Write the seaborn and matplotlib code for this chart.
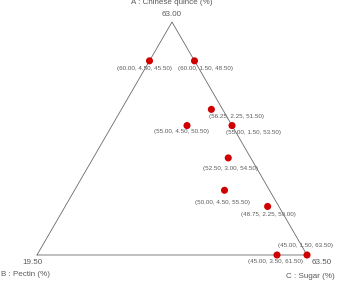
import numpy as np
import pandas as pd
import matplotlib
matplotlib.use("Agg")
import matplotlib.pyplot as plt
import seaborn as sns

# Mixture design points: A = Chinese quince (%), B = Pectin (%), C = Sugar (%)
quince = [60.00, 60.00, 56.25, 55.00, 55.00, 52.50, 50.00, 48.75, 45.00, 45.00]
pectin = [4.50, 1.50, 2.25, 1.50, 4.50, 3.00, 4.50, 2.25, 1.50, 3.50]
sugar = [45.50, 48.50, 51.50, 53.50, 50.50, 54.50, 55.50, 59.00, 63.50, 61.50]

# Vertex (upper bound) labels
vertex_a = 63.00
vertex_b = 19.50
vertex_c = 63.50
low_a, low_b, low_c = 45.00, 1.50, 45.50
span = 18.0

# label offsets (pixels, dx right, dy down) - layout only
lab_dx = [-5, 11, 25, 22, -5, 2, -2, 1, -1, -2]
lab_dy = [8, 8, 7, 7, 6, 11, 12, 8, -9, 7]

sns.set_theme(style="white")
plt.rcParams['font.family'] = ['Liberation Sans', 'DejaVu Sans']

W, H = 337, 281
fig = plt.figure(figsize=(W / 100, H / 100), dpi=100)
h = np.sqrt(3) / 2
ax = fig.add_axes([37 / W, (H - 255) / H, 270 / W, 233 / H])
ax.set_xlim(0, 1)
ax.set_ylim(0, h)
ax.axis('off')

a = (np.array(quince) - low_a) / span
b = (np.array(pectin) - low_b) / span
c = (np.array(sugar) - low_c) / span
df = pd.DataFrame({"x": c + a * 0.5, "y": a * h})

edge_col = "#6a6a6a"
ax.plot([0, 1, 0.5, 0], [0, 0, h, 0], color=edge_col, lw=0.6, clip_on=False, zorder=3)

sns.scatterplot(data=df, x="x", y="y", ax=ax, color="#d00000", s=26,
                edgecolor="none", clip_on=False, zorder=4, legend=False)

txt_col = "#5a5a5a"
for i in range(len(quince)):
    lab = f"({quince[i]:.2f}, {pectin[i]:.2f}, {sugar[i]:.2f})"
    ax.annotate(lab, (df.x[i], df.y[i]), xytext=(lab_dx[i] * 0.72, -lab_dy[i] * 0.72),
                textcoords="offset points", ha="center", va="center",
                fontsize=4.5, color=txt_col, zorder=2)

fs = 5.8
ax.annotate(f"{vertex_a:.2f}", (0.5, h), xytext=(0, 7 * 0.72), textcoords="offset points",
            ha="center", va="center", fontsize=fs, color=txt_col)
ax.annotate("A : Chinese quince (%)", (0.5, h), xytext=(0, 19 * 0.72), textcoords="offset points",
            ha="center", va="center", fontsize=fs, color=txt_col)
ax.annotate(f"{vertex_b:.2f}", (0, 0), xytext=(-5 * 0.72, -8 * 0.72), textcoords="offset points",
            ha="center", va="center", fontsize=fs, color=txt_col)
ax.annotate("B : Pectin (%)", (0, 0), xytext=(-36 * 0.72, -19 * 0.72), textcoords="offset points",
            ha="left", va="center", fontsize=fs, color=txt_col)
ax.annotate(f"{vertex_c:.2f}", (1, 0), xytext=(15 * 0.72, -7 * 0.72), textcoords="offset points",
            ha="center", va="center", fontsize=fs, color=txt_col)
ax.annotate("C : Sugar (%)", (1, 0), xytext=(3 * 0.72, -22 * 0.72), textcoords="offset points",
            ha="center", va="center", fontsize=fs, color=txt_col)

fig.savefig("out.png", dpi=100, facecolor="white")
